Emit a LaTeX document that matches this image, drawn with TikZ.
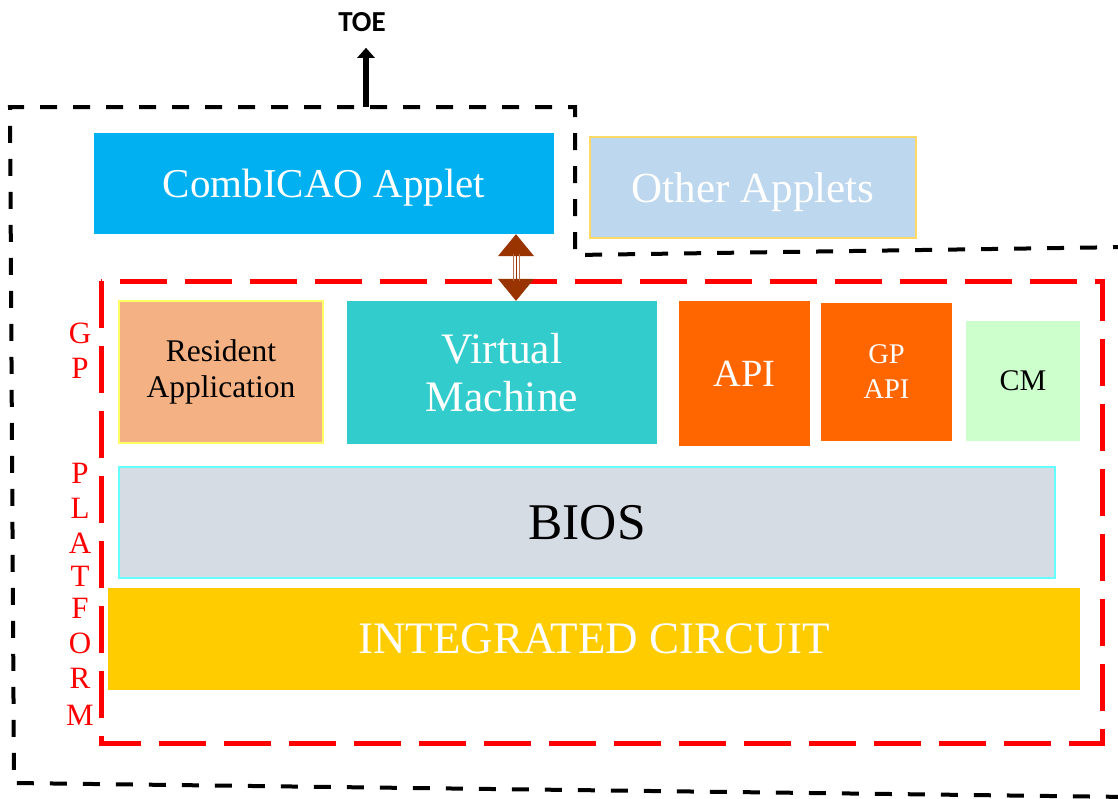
\documentclass[tikz,border=0pt]{standalone}
\usepackage{fontspec}
\setmainfont{Liberation Serif}
\newfontfamily\toefont{Carlito}
\usetikzlibrary{arrows.meta}
\definecolor{cicaoc}{HTML}{00B0F0}
\definecolor{otherc}{HTML}{BDD7EE}
\definecolor{yelb}{HTML}{FFD966}
\definecolor{resc}{HTML}{F4B183}
\definecolor{resb}{HTML}{FFFF66}
\definecolor{vmc}{HTML}{33CCCC}
\definecolor{apic}{HTML}{FF6600}
\definecolor{cmc}{HTML}{CCFFCC}
\definecolor{biosc}{HTML}{D6DCE4}
\definecolor{biosb}{HTML}{66FFFF}
\definecolor{icc}{HTML}{FFCC00}
\definecolor{arrc}{HTML}{993300}
\tikzset{
  blk/.style={inner sep=0pt, align=center, draw=none},
  fs/.style 2 args={font=\fontsize{#1}{#2}\selectfont},
  toeline/.style={draw=black, line width=4pt, dash pattern=on 17pt off 16pt},
  redline/.style={draw=red, line width=5pt, dash pattern=on 47pt off 18pt},
  gpl/.style={inner sep=0pt, text=red, font=\fontsize{31}{35}\selectfont},
}
\begin{document}
\begin{tikzpicture}[x=1pt,y=-1pt]
\useasboundingbox (0,0) rectangle (1118,798);
% TOE boundary
\draw[toeline] (1130,247) -- (575,255) -- (575,107) -- (10,107) -- (14,783) -- (1130,797);
% GP platform boundary
\draw[redline] (101,281) rectangle (1102,743);
% boxes
\node[blk, fill=cicaoc, minimum width=460pt, minimum height=101pt, text=white, text depth=0pt, fs={41}{48}] (cicao) at (324,183.5) {CombICAO Applet};
\node[blk, fill=otherc, draw=yelb, line width=1.2pt, minimum width=326pt, minimum height=101pt, text=white, text depth=0pt, fs={43}{48}] (other) at (753,187.5) {Other Applets};
\node[blk, fill=resc, draw=resb, line width=1.2pt, minimum width=204pt, minimum height=142pt, text=black, fs={31.5}{36}] (res) at (221,372) {Resident\\Application};
\node[blk, fill=vmc, minimum width=310pt, minimum height=143pt, text=white, fs={43.5}{48}] (vm) at (502,372.5) {Virtual\\Machine};
\node[blk, fill=apic, minimum width=131pt, minimum height=145pt, text=white, text depth=0pt, fs={38.5}{44}] (api) at (744.5,373.5) {API};
\node[blk, fill=apic, minimum width=131pt, minimum height=138pt, text=white, fs={28.5}{35}] (gpapi) at (886.5,372) {GP\\API};
\node[blk, fill=cmc, minimum width=114pt, minimum height=120pt, text=black, text depth=0pt, fs={30}{35}] (cm) at (1023,381) {CM};
\node[blk, fill=biosc, draw=biosb, line width=1.5pt, minimum width=936pt, minimum height=111pt, text=black, text depth=0pt, fs={51.5}{58}] (bios) at (587,522.5) {BIOS};
\node[blk, fill=icc, minimum width=972pt, minimum height=102pt, text=white, text depth=0pt, fs={45}{52}] (ic) at (594,639) {INTEGRATED CIRCUIT};
% GP PLATFORM letters
\foreach \l/\y [count=\i] in {G/333,P/368,P/473,L/508,A/543,T/576,F/608,O/643,R/678,M/715}
  \node[gpl] (gp\i) at (80,\y) {\l};
% TOE label and arrow
\node[inner sep=0pt, font=\toefont\bfseries\fontsize{29}{34}\selectfont] (toe) at (362,22) {TOE};
\coordinate (toea) at (366,107);
\draw[line width=6pt, -{Triangle[width=17pt,length=10pt]}, shorten >=16pt] (toea) -- (toea |- toe.south);
% double arrow between applet and VM
\coordinate (ax) at (516,0);
\draw[arrc, line width=0.8pt, {Triangle[width=36pt,length=22pt]}-{Triangle[width=36pt,length=22pt]}] (cicao.south -| ax) -- (vm.north -| ax);
\draw[arrc!70, line width=0.8pt] ([xshift=-3pt,yshift=-20pt]cicao.south -| ax) -- ([xshift=-3pt,yshift=20pt]vm.north -| ax);
\draw[arrc!70, line width=0.8pt] ([xshift=3pt,yshift=-20pt]cicao.south -| ax) -- ([xshift=3pt,yshift=20pt]vm.north -| ax);
\end{tikzpicture}
\end{document}
